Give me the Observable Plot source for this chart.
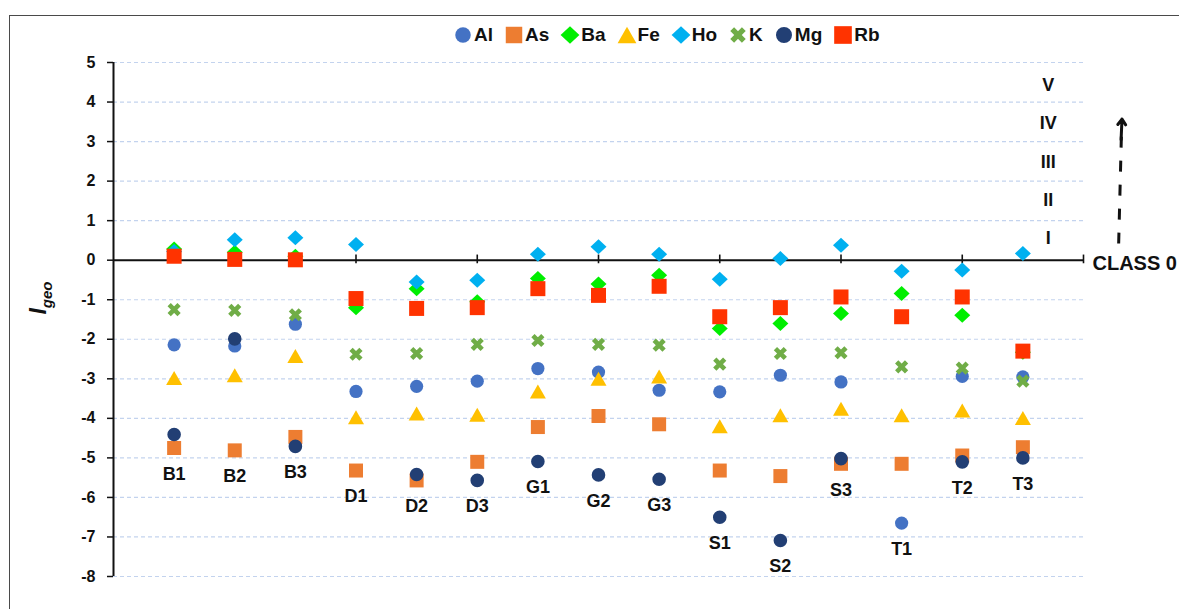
<!DOCTYPE html>
<html>
<head>
<meta charset="utf-8">
<script src="https://cdn.jsdelivr.net/npm/d3@7"></script>
<script src="https://cdn.jsdelivr.net/npm/@observablehq/plot@0.6"></script>
<style>
  html, body { margin: 0; padding: 0; background: #fff; }
  body { width: 1179px; height: 609px; overflow: hidden; position: relative; font-family: "Liberation Sans", Arial, sans-serif; }
  #frame { position: absolute; left: 9px; top: 15px; width: 1300px; height: 700px; border-left: 1.6px solid #4a4a4a; border-top: 1.6px solid #4a4a4a; pointer-events: none; }
  #chart { position: absolute; left: 0; top: 0; }
  #legend { position: absolute; left: 453px; top: 24px; display: flex; align-items: center; gap: 11px; font-weight: bold; font-size: 19px; color: #111; }
  #legend .item { display: flex; align-items: center; gap: 1px; }
  #ylabel { position: absolute; left: 40px; top: 298px; transform: translate(-50%, -50%) rotate(-90deg); font-weight: bold; font-style: italic; font-size: 23px; white-space: nowrap; color: #111; }
  #ylabel sub { font-size: 15px; font-style: italic; }
</style>
</head>
<body>
<div id="chart"></div>
<div id="frame"></div>
<div id="legend"></div>
<div id="ylabel">I<sub>geo</sub></div>
<script>
const categories = ["B1","B2","B3","D1","D2","D3","G1","G2","G3","S1","S2","S3","T1","T2","T3"];
const elements = ["Al","As","Ba","Fe","Ho","K","Mg","Rb"];
const Al = [-2.14,-2.17,-1.62,-3.32,-3.19,-3.06,-2.74,-2.83,-3.29,-3.33,-2.91,-3.08,-6.65,-2.94,-2.95];
const As = [-4.75,-4.81,-4.47,-5.32,-5.57,-5.10,-4.22,-3.94,-4.15,-5.32,-5.46,-5.15,-5.15,-4.94,-4.73];
const Ba = [0.28,0.20,0.10,-1.20,-0.72,-1.05,-0.46,-0.60,-0.38,-1.73,-1.60,-1.35,-0.84,-1.39,-2.33];
const Fe = [-2.98,-2.91,-2.42,-3.97,-3.88,-3.91,-3.32,-3.00,-2.94,-4.20,-3.92,-3.76,-3.92,-3.80,-3.99];
const Ho = [0.22,0.52,0.57,0.40,-0.55,-0.51,0.15,0.34,0.15,-0.48,0.04,0.38,-0.28,-0.25,0.17];
const K  = [-1.25,-1.27,-1.38,-2.38,-2.36,-2.13,-2.03,-2.13,-2.15,-2.63,-2.36,-2.34,-2.70,-2.73,-3.06];
const Mg = [-4.41,-1.99,-4.71,null,-5.42,-5.57,-5.09,-5.43,-5.54,-6.50,-7.09,-5.02,null,-5.10,-5.00];
const Rb = [0.10,0.02,0.01,-0.97,-1.22,-1.20,-0.72,-0.89,-0.66,-1.43,-1.20,-0.93,-1.43,-0.93,-2.30];
const classes = ["I","II","III","IV","V"];
const yTicks = [5,4,3,2,1,0,-1,-2,-3,-4,-5,-6,-7,-8];

const values = {Al, As, Ba, Fe, Ho, K, Mg, Rb};

// marker shapes (pixel sizes)
const circle = r => ({draw(c){ c.moveTo(r,0); c.arc(0,0,r,0,2*Math.PI); c.closePath(); }});
const square = s => ({draw(c){ c.rect(-s/2,-s/2,s,s); }});
const diamond = (w,h) => ({draw(c){ c.moveTo(0,-h/2); c.lineTo(w/2,0); c.lineTo(0,h/2); c.lineTo(-w/2,0); c.closePath(); }});
const triangle = (w,h) => ({draw(c){ c.moveTo(0,-h/2); c.lineTo(w/2,h/2); c.lineTo(-w/2,h/2); c.closePath(); }});
const cross = (len,t) => ({draw(c){
  [45,-45].forEach(a => {
    const rad = a*Math.PI/180, co = Math.cos(rad), si = Math.sin(rad);
    const pts = [[-len/2,-t/2],[len/2,-t/2],[len/2,t/2],[-len/2,t/2]].map(([x,y]) => [x*co - y*si, x*si + y*co]);
    c.moveTo(pts[0][0],pts[0][1]); for (let i=1;i<4;i++) c.lineTo(pts[i][0],pts[i][1]); c.closePath();
  });
}});

const style = {
  Al: {color:"#4472C4", symbol: circle(6.6)},
  As: {color:"#ED7D31", symbol: square(14)},
  Ba: {color:"#00EE00", symbol: diamond(16,15)},
  Fe: {color:"#FFC000", symbol: triangle(16,14)},
  Ho: {color:"#00B0F0", symbol: diamond(16,15)},
  K:  {color:"#70AD47", symbol: cross(14,4.6)},
  Mg: {color:"#223F74", symbol: circle(6.8)},
  Rb: {color:"#FF3300", symbol: square(15)}
};

const pointsFor = el => categories.map((cat,i) => ({cat, x: i+1, y: values[el][i]})).filter(d => d.y != null);

const labels = categories.map((cat,i) => ({
  cat, x: i+1,
  y: d3.min(elements, el => values[el][i] == null ? undefined : values[el][i])
}));

const font = "'Liberation Sans', Arial, sans-serif";

const chart = Plot.plot({
  width: 1179,
  height: 609,
  marginLeft: 113,
  marginRight: 96,
  marginTop: 62,
  marginBottom: 33,
  style: {fontFamily: font, color: "#111", background: "transparent", overflow: "visible"},
  x: {domain: [0,16], axis: null},
  y: {domain: [-8,5], axis: null},
  marks: [
    Plot.gridY(yTicks.filter(d => d !== 0), {stroke: "#c3d3ee", strokeOpacity: 1, strokeDasharray: "4,3", strokeWidth: 1.2}),
    Plot.axisY(yTicks, {tickSize: 6, tickPadding: 12, tickFormat: d => String(d), fontSize: 16, fontWeight: "bold", label: null, stroke: "#111", strokeWidth: 1.5}),
    Plot.ruleX([0], {y1: -8, y2: 5, stroke: "#111", strokeWidth: 2}),
    Plot.ruleY([0], {x1: 0, x2: 16, stroke: "#111", strokeWidth: 2}),
    Plot.ruleX(d3.range(2,17,2), {y1: -0.09, y2: 0.13, stroke: "#111", strokeWidth: 1.6}),
    ...elements.map(el => Plot.dot(pointsFor(el), {x: "x", y: "y", symbol: style[el].symbol, fill: style[el].color, stroke: "none", r: 6})),
    Plot.text(labels, {x: "x", y: "y", text: "cat", dy: 26, fontSize: 18, fontWeight: "bold", fill: "#111"}),
    Plot.text(classes, {x: 15.42, y: (d,i) => 0.55 + i * 0.97, text: d => d, fontSize: 18, fontWeight: "bold", fill: "#111"}),
    Plot.text(["CLASS 0"], {x: 16, y: 0, dx: 9, dy: 3, text: d => d, textAnchor: "start", fontSize: 20, fontWeight: "bold", fill: "#111"}),
    Plot.link([0], {x1: 16.58, y1: 0.42, x2: 16.625, y2: 3.15, stroke: "#111", strokeWidth: 3, strokeDasharray: "11,13"}),
    Plot.arrow([0], {x1: 16.62, y1: 3.05, x2: 16.635, y2: 3.57, stroke: "#111", strokeWidth: 3, headLength: 9, headAngle: 70})
  ]
});
document.getElementById("chart").appendChild(chart);

// legend
const legend = document.getElementById("legend");
elements.forEach(el => {
  const p = d3.path();
  style[el].symbol.draw(p);
  const item = document.createElement("div");
  item.className = "item";
  item.innerHTML = `<svg width="20" height="20" viewBox="-8.5 -8.5 17 17"><path d="${p.toString()}" fill="${style[el].color}"/></svg><span>${el}</span>`;
  legend.appendChild(item);
});
</script>
</body>
</html>
